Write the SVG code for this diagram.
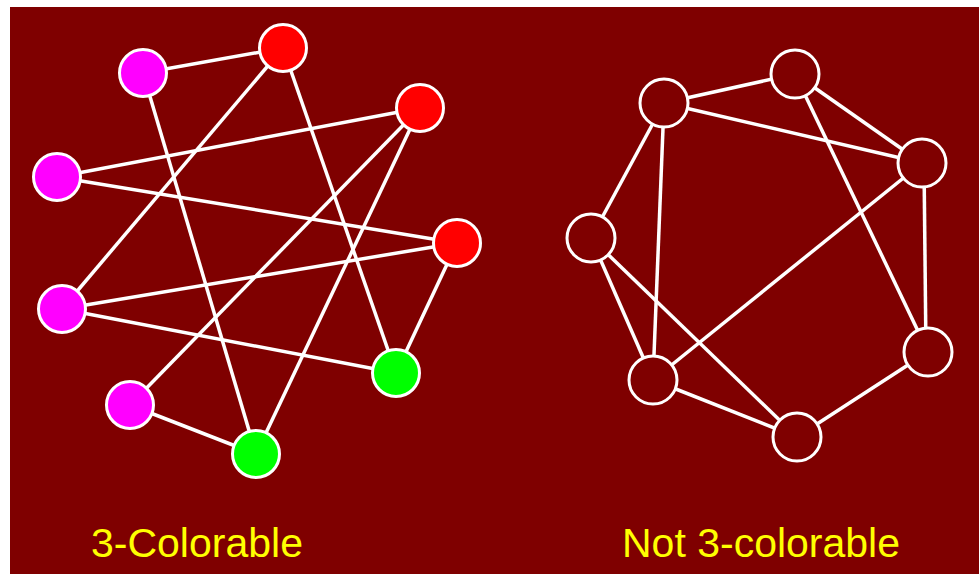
<svg xmlns="http://www.w3.org/2000/svg" width="979" height="574" viewBox="0 0 979 574">
<style>
.edge{stroke:#fff;stroke-width:3.5;fill:none}
.node{stroke:#fff;stroke-width:3}
.m{fill:#ff00ff}.r{fill:#ff0000}.g{fill:#00ff00}.e{fill:#7f0000}
.lbl{font-family:"Liberation Sans",Arial,sans-serif;font-size:41px;fill:#ffff00}
</style>
<rect x="0" y="0" width="979" height="574" fill="#fff"/>
<rect x="10" y="7" width="969" height="567" fill="#7f0000"/>
<g id="connectors">
<line class="edge" x1="143" y1="73" x2="283" y2="48"/>
<line class="edge" x1="143" y1="73" x2="256" y2="454"/>
<line class="edge" x1="283" y1="48" x2="62" y2="309"/>
<line class="edge" x1="283" y1="48" x2="396" y2="373"/>
<line class="edge" x1="57" y1="177" x2="420" y2="108"/>
<line class="edge" x1="57" y1="177" x2="457" y2="243"/>
<line class="edge" x1="420" y1="108" x2="130" y2="405"/>
<line class="edge" x1="420" y1="108" x2="256" y2="454"/>
<line class="edge" x1="457" y1="243" x2="62" y2="309"/>
<line class="edge" x1="457" y1="243" x2="396" y2="373"/>
<line class="edge" x1="62" y1="309" x2="396" y2="373"/>
<line class="edge" x1="130" y1="405" x2="256" y2="454"/>
<line class="edge" x1="664" y1="103" x2="795" y2="74"/>
<line class="edge" x1="664" y1="103" x2="922" y2="163"/>
<line class="edge" x1="795" y1="74" x2="922" y2="163"/>
<line class="edge" x1="795" y1="74" x2="928" y2="352"/>
<line class="edge" x1="664" y1="103" x2="591" y2="238"/>
<line class="edge" x1="664" y1="103" x2="653" y2="380"/>
<line class="edge" x1="922" y1="163" x2="653" y2="380"/>
<line class="edge" x1="924" y1="163" x2="926" y2="352"/>
<line class="edge" x1="591" y1="238" x2="653" y2="380"/>
<line class="edge" x1="591" y1="238" x2="797" y2="437"/>
<line class="edge" x1="653" y1="380" x2="797" y2="437"/>
<line class="edge" x1="928" y1="352" x2="797" y2="437"/>
</g>
<g id="n-m1"><circle class="node m" cx="143" cy="73" r="23.5"/></g>
<g id="n-r1"><circle class="node r" cx="283" cy="48" r="23.5"/></g>
<g id="n-m2"><circle class="node m" cx="57" cy="177" r="23.5"/></g>
<g id="n-r2"><circle class="node r" cx="420" cy="108" r="23.5"/></g>
<g id="n-r3"><circle class="node r" cx="457" cy="243" r="23.5"/></g>
<g id="n-m3"><circle class="node m" cx="62" cy="309" r="23.5"/></g>
<g id="n-g1"><circle class="node g" cx="396" cy="373" r="23.5"/></g>
<g id="n-m4"><circle class="node m" cx="130" cy="405" r="23.5"/></g>
<g id="n-g2"><circle class="node g" cx="256" cy="454" r="23.5"/></g>
<g id="n-a"><circle class="node e" cx="664" cy="103" r="24"/></g>
<g id="n-b"><circle class="node e" cx="795" cy="74" r="24"/></g>
<g id="n-c"><circle class="node e" cx="922" cy="163" r="24"/></g>
<g id="n-d"><circle class="node e" cx="591" cy="238" r="24"/></g>
<g id="n-e"><circle class="node e" cx="928" cy="352" r="24"/></g>
<g id="n-f"><circle class="node e" cx="653" cy="380" r="24"/></g>
<g id="n-g"><circle class="node e" cx="797" cy="437" r="24"/></g>
<text class="lbl" x="91" y="557">3-Colorable</text>
<text class="lbl" x="622" y="557">Not 3-colorable</text>
</svg>
